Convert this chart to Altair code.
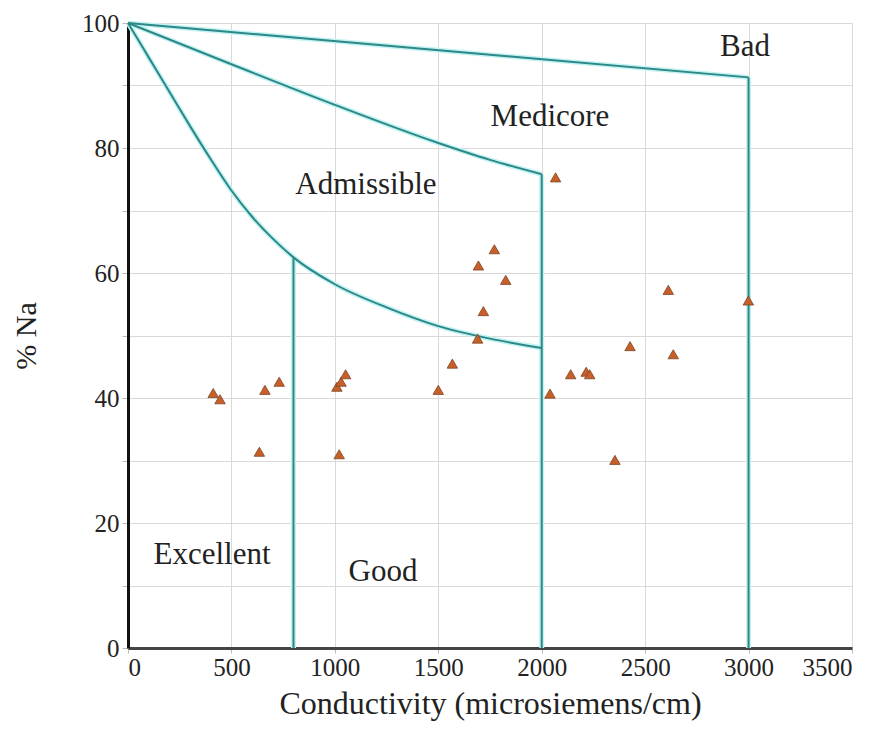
import altair as alt
import pandas as pd

# Sample points (conductivity, %Na)
conductivity = [412, 445, 635, 662, 731, 1010, 1030, 1052, 1021, 1500, 1568, 1690, 1718,
                1694, 1771, 1826, 2040, 2067, 2140, 2215, 2232, 2354, 2427, 2612, 2636, 2999]
percent_na = [40.8, 39.8, 31.4, 41.3, 42.6, 41.8, 42.6, 43.8, 31.0, 41.3, 45.5, 49.5, 53.9,
              61.2, 63.8, 58.9, 40.7, 75.3, 43.8, 44.2, 43.8, 30.1, 48.3, 57.3, 47.0, 55.6]

# Boundary curves of the Wilcox diagram
bad_x = [0, 3000]
bad_y = [100, 91.3]
med_x = [0, 500, 1000, 1500, 1750, 2000]
med_y = [100, 93.4, 86.9, 80.8, 78.1, 75.8]
adm_x = [0, 100, 200, 300, 400, 500, 600, 700, 800, 1000, 1250, 1500, 1750, 2000]
adm_y = [100, 94.5, 89.0, 83.5, 78.2, 73.2, 69.0, 65.5, 62.5, 58.2, 54.5, 51.5, 49.5, 48.0]
# Vertical class limits (conductivity, top %Na)
vert_x = [800, 2000, 3000]
vert_top = [62.5, 75.8, 91.3]

# Region labels
label_text = ["Bad", "Medicore", "Admissible", "Excellent", "Good"]
label_x = [2983, 2040, 1150, 406, 1233]
label_y = [96.2, 85.0, 74.1, 14.9, 12.2]

x_ticks = [0, 500, 1000, 1500, 2000, 2500, 3000, 3500]
y_ticks = [0, 10, 20, 30, 40, 50, 60, 70, 80, 90, 100]

rows = []
for name, xs, ys in [("bad", bad_x, bad_y), ("med", med_x, med_y), ("adm", adm_x, adm_y)]:
    for i, (a, b) in enumerate(zip(xs, ys)):
        rows.append({"cond": a, "na": b, "grp": name, "ord": i})
for j, (a, top) in enumerate(zip(vert_x, vert_top)):
    rows.append({"cond": a, "na": top, "grp": f"v{j}", "ord": 0})
    rows.append({"cond": a, "na": 0, "grp": f"v{j}", "ord": 1})
lines_df = pd.DataFrame(rows)
pts_df = pd.DataFrame({"cond": conductivity, "na": percent_na})
lab_df = pd.DataFrame({"t": label_text, "cond": label_x, "na": label_y})

FONT = "Liberation Serif"

xscale = alt.Scale(domain=[0, 3500], nice=False, zero=False)
yscale = alt.Scale(domain=[0, 100], nice=False, zero=False)

xenc = alt.X("cond:Q", scale=xscale, title="Conductivity (microsiemens/cm)",
             axis=alt.Axis(values=x_ticks, format="d", grid=True, gridColor="#d9d9d9",
                           domainColor="#444444", domainWidth=3, tickColor="#bbbbbb",
                           tickSize=5, labelFont=FONT, labelFontSize=25, labelColor="#222",
                           labelPadding=2, titleFont=FONT, titleFontSize=32,
                           titleFontWeight="normal", titleColor="#222", titlePadding=8))
yenc = alt.Y("na:Q", scale=yscale, title="% Na",
             axis=alt.Axis(values=y_ticks, grid=True, gridColor="#d9d9d9",
                           labelExpr="datum.value % 20 === 0 ? datum.label : ''",
                           domainColor="#111111", domainWidth=3, tickColor="#bbbbbb",
                           tickSize=6, labelFont=FONT, labelFontSize=25, labelColor="#222",
                           labelPadding=3, titleFont=FONT, titleFontSize=30,
                           titleFontWeight="normal", titleColor="#222", titlePadding=40))

glow = alt.Chart(lines_df).mark_line(color="#c4f2f2", strokeWidth=5,
                                     interpolate="monotone").encode(
    x=xenc, y=yenc, detail="grp:N", order="ord:Q")
lines = alt.Chart(lines_df).mark_line(color="#2c8787", strokeWidth=2,
                                      interpolate="monotone").encode(
    x=xenc, y=yenc, detail="grp:N", order="ord:Q")
points = alt.Chart(pts_df).mark_point(shape="triangle-up", filled=True, size=110,
                                      fill="#c95f28", stroke="#7a4525", strokeWidth=0.8,
                                      opacity=1).encode(x=xenc, y=yenc)
labels = alt.Chart(lab_df).mark_text(font=FONT, fontSize=31, color="#222",
                                     align="center", baseline="middle").encode(
    x=xenc, y=yenc, text="t:N")

chart = alt.layer(glow, lines, points, labels).properties(
    width=724, height=625,
    autosize=alt.AutoSizeParams(type="none"),
    padding={"left": 120, "top": 15, "right": 20, "bottom": 75},
    background="white",
).configure_view(stroke=None)

chart.save("out.html", embed_options={"renderer": "svg", "actions": False})
